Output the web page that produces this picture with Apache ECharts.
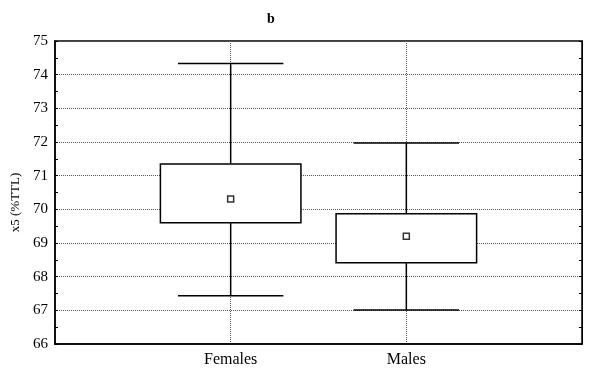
<!DOCTYPE html>
<html>
<head>
<meta charset="utf-8">
<script src="https://cdn.jsdelivr.net/npm/echarts@6/dist/echarts.min.js"></script>
<style>
  html, body { margin: 0; padding: 0; background: #fff; }
  #chart { width: 600px; height: 378px; }
</style>
</head>
<body>
<div id="chart"></div>
<script>
// categories padded so the groups sit at 1/3 and 2/3 of the axis
const categories = ['', 'Females', 'Males', '']
const groupIndex = [1, 2]

// whiskers (mean ± SD), box (mean ± SE), mean marker
const whiskerLow = [67.43, 67.01]
const boxLow = [69.60, 68.41]
const mean = [70.31, 69.20]
const boxHigh = [71.35, 69.87]
const whiskerHigh = [74.33, 71.97]

const yMin = 66
const yMax = 75

const serif = '"Liberation Serif", "DejaVu Serif", serif'

const boxData = groupIndex.map((x, i) => [x, whiskerLow[i], boxLow[i], boxHigh[i], whiskerHigh[i]])
const meanData = groupIndex.map((x, i) => [x, mean[i]])

function renderBox (params, api) {
  const x = api.value(0)
  const band = api.size([1, 0])[0]
  const boxHalf = band * 0.4
  const capHalf = band * 0.3
  const lo = api.coord([x, api.value(1)])
  const q1 = api.coord([x, api.value(2)])
  const q3 = api.coord([x, api.value(3)])
  const hi = api.coord([x, api.value(4)])
  const cx = lo[0]
  const line = { stroke: '#000', lineWidth: 1.5 }
  return {
    type: 'group',
    children: [
      { type: 'line', shape: { x1: cx, y1: hi[1], x2: cx, y2: q3[1] }, style: line },
      { type: 'line', shape: { x1: cx, y1: q1[1], x2: cx, y2: lo[1] }, style: line },
      { type: 'line', shape: { x1: cx - capHalf, y1: hi[1], x2: cx + capHalf, y2: hi[1] }, style: line },
      { type: 'line', shape: { x1: cx - capHalf, y1: lo[1], x2: cx + capHalf, y2: lo[1] }, style: line },
      {
        type: 'rect',
        shape: { x: cx - boxHalf, y: q3[1], width: boxHalf * 2, height: q1[1] - q3[1] },
        style: { fill: '#fff', stroke: '#000', lineWidth: 1.5 }
      }
    ]
  }
}

const chart = echarts.init(document.getElementById('chart'))

chart.setOption({
  animation: false,
  backgroundColor: '#fff',
  textStyle: { fontFamily: serif, color: '#000' },
  title: {
    text: 'b',
    left: 262,
    top: 7,
    textStyle: { fontFamily: serif, fontSize: 14, fontWeight: 'bold', color: '#000' }
  },
  grid: {
    left: 55,
    right: 18,
    top: 41,
    bottom: 34,
    show: true,
    borderColor: '#000',
    borderWidth: 1.5
  },
  xAxis: {
    type: 'category',
    data: categories,
    boundaryGap: false,
    axisLine: { lineStyle: { color: '#000', width: 1.5 } },
    axisTick: { show: false },
    axisLabel: { fontFamily: serif, fontSize: 16, color: '#000', margin: 8 },
    splitLine: { show: true, lineStyle: { color: '#555', type: 'dotted', width: 1 } }
  },
  yAxis: [{
    type: 'value',
    min: yMin,
    max: yMax,
    interval: 1,
    name: 'x5 (%TTL)',
    nameLocation: 'middle',
    nameGap: 31,
    nameTextStyle: { fontFamily: serif, fontSize: 13, color: '#000', padding: [0, 20, 0, 0] },
    axisLine: { show: true, lineStyle: { color: '#000', width: 1.5 } },
    axisTick: { show: true, inside: true, length: 3, lineStyle: { color: '#000' } },
    minorTick: { show: true, splitNumber: 2, length: 3, lineStyle: { color: '#000' } },
    axisLabel: { fontFamily: serif, fontSize: 15, color: '#000', margin: 7 },
    splitLine: { show: true, lineStyle: { color: '#555', type: 'dotted', width: 1 } }
  }, {
    type: 'value',
    position: 'right',
    min: yMin,
    max: yMax,
    interval: 1,
    axisLine: { show: true, lineStyle: { color: '#000', width: 1 } },
    axisTick: { show: true, inside: true, length: 3, lineStyle: { color: '#000' } },
    minorTick: { show: true, splitNumber: 2, length: 3, lineStyle: { color: '#000' } },
    axisLabel: { show: false },
    splitLine: { show: false }
  }],
  series: [{
    type: 'custom',
    renderItem: renderBox,
    encode: { x: 0, y: [1, 2, 3, 4] },
    data: boxData,
    z: 2
  }, {
    type: 'scatter',
    symbol: 'rect',
    symbolSize: 6,
    itemStyle: { color: '#fff', borderColor: '#000', borderWidth: 1.5 },
    data: meanData,
    z: 3
  }]
})
</script>
</body>
</html>
